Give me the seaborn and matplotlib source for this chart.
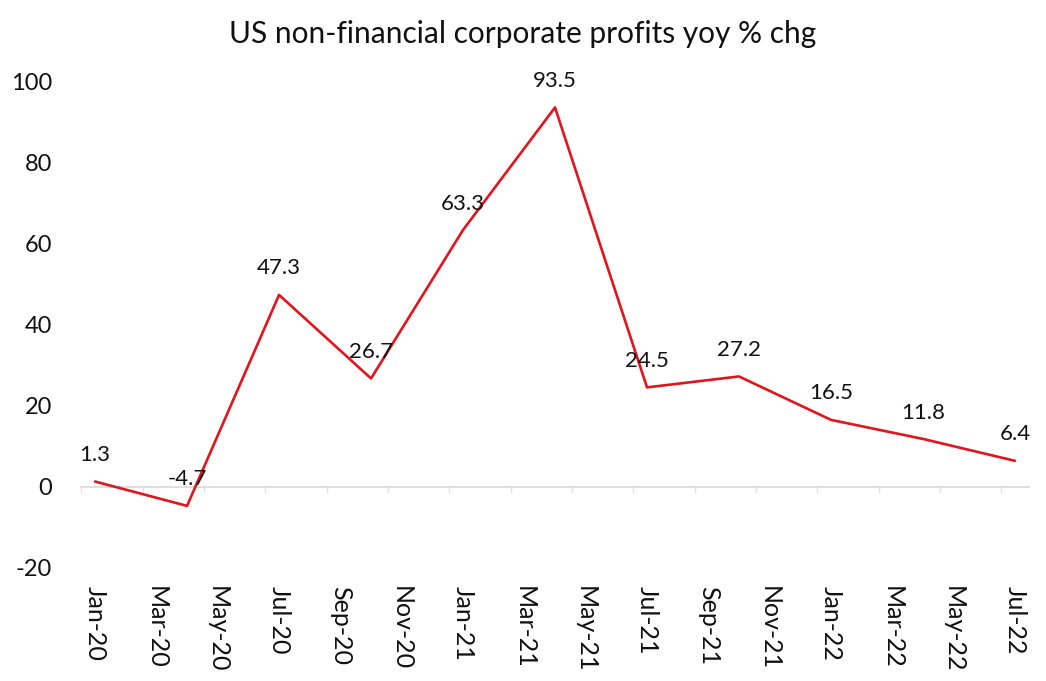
'''
Recreates the line chart of US non-financial corporate profits, yoy % change,
quarterly from Jan-20 to Jul-22, with the values printed above each point.
'''
import pandas as pd
import matplotlib.pyplot as plt
import seaborn as sns

# --- Data ---
MONTH_INDEX = [0, 3, 6, 9, 12, 15, 18, 21, 24, 27, 30]   # months since Jan-20
PROFITS_YOY = [1.3, -4.7, 47.3, 26.7, 63.3, 93.5, 24.5, 27.2, 16.5, 11.8, 6.4]
TICK_MONTHS = list(range(0, 31, 2))
TICK_LABELS = ['Jan-20', 'Mar-20', 'May-20', 'Jul-20', 'Sep-20', 'Nov-20',
               'Jan-21', 'Mar-21', 'May-21', 'Jul-21', 'Sep-21', 'Nov-21',
               'Jan-22', 'Mar-22', 'May-22', 'Jul-22']
Y_TICKS = [-20, 0, 20, 40, 60, 80, 100]
TITLE = 'US non-financial corporate profits yoy % chg'

sns.set_style('white')
plt.rcParams['font.family'] = ['Lato', 'DejaVu Sans']

df = pd.DataFrame({'month': MONTH_INDEX, 'yoy': PROFITS_YOY})

fig = plt.figure(figsize=(10.46, 6.81), dpi=100)
ax = fig.add_axes([0.0762, 0.166, 0.9088, 0.715])

# zero line acts as the category axis
ax.axhline(0, color='#d9d9d9', linewidth=1.2, zorder=1)

sns.lineplot(data=df, x='month', y='yoy', color='#e3141b', linewidth=1.9,
             ax=ax, zorder=3)

# data labels above each point
for m, v in zip(df['month'], df['yoy']):
    ax.annotate(f'{v:.1f}', (m, v), xytext=(0, 19), textcoords='offset points',
                ha='center', va='center', fontsize=16, color='#111111')

ax.set_xlim(-0.5, 30.5)
ax.set_ylim(-20, 100)
ax.set_yticks(Y_TICKS)
ax.set_yticklabels([str(t) for t in Y_TICKS])
ax.set_xticks(TICK_MONTHS)
ax.set_xticklabels(TICK_LABELS, rotation=-90)

ax.tick_params(axis='y', length=0, pad=20, labelsize=17, labelcolor='#111111')
ax.tick_params(axis='x', length=0, pad=13, labelsize=18, labelcolor='#111111')
for lab in ax.get_xticklabels():
    lab.set_va('top')

# small grey tick marks on the zero line
for m in TICK_MONTHS:
    ax.plot([m - 0.45, m - 0.45], [0, -1.3], color='#e3e3e3', linewidth=1,
            zorder=1)

for side in ['top', 'right', 'left', 'bottom']:
    ax.spines[side].set_visible(False)

ax.set_xlabel('')
ax.set_ylabel('')
fig.text(0.5, 0.95, TITLE, ha='center', va='center', fontsize=21.5,
         color='#111111')

plt.savefig('out.png', dpi=100)
plt.close()
